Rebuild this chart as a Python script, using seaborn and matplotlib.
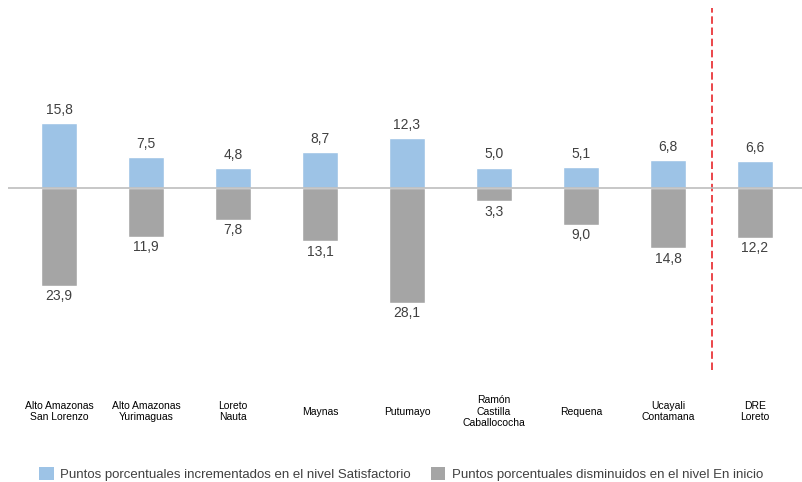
import matplotlib
matplotlib.use("Agg")
import matplotlib.pyplot as plt
import seaborn as sns
import pandas as pd
from matplotlib.patches import Patch

categories = ["Alto Amazonas\nSan Lorenzo", "Alto Amazonas\nYurimaguas", "Loreto\nNauta",
              "Maynas", "Putumayo", "Ramón\nCastilla\nCaballococha", "Requena",
              "Ucayali\nContamana", "DRE\nLoreto"]
incremento = [15.8, 7.5, 4.8, 8.7, 12.3, 5.0, 5.1, 6.8, 6.6]
disminucion = [23.9, 11.9, 7.8, 13.1, 28.1, 3.3, 9.0, 14.8, 12.2]
serie_names = ["Puntos porcentuales incrementados en el nivel Satisfactorio",
               "Puntos porcentuales disminuidos en el nivel En inicio"]

blue = "#9DC3E6"
gray = "#A5A5A5"

sns.set_theme(style="white")
plt.rcParams["font.family"] = ["Liberation Sans", "DejaVu Sans"]

df = pd.DataFrame({
    "cat": categories * 2,
    "val": incremento + [-v for v in disminucion],
    "serie": [serie_names[0]] * len(categories) + [serie_names[1]] * len(categories),
})

fig = plt.figure(figsize=(8.02, 4.82), dpi=100)
ax = fig.add_axes([0.00998, 0.2324, 0.99, 0.751])

sns.barplot(data=df, x="cat", y="val", hue="serie", dodge=False, width=0.41,
            palette=[blue, gray], ax=ax, legend=False, saturation=1)

ax.set_xlim(-0.586, 8.54)
ax.set_ylim(-44.6, 44.1)
ax.axhline(0, color="#BDBDBD", lw=1.2, zorder=3)
ax.axvline(7.5, color="#E8262B", lw=1.2, ls=(0, (4.5, 2.2)))

for i, (p, n) in enumerate(zip(incremento, disminucion)):
    ax.annotate(f"{p:.1f}".replace(".", ","), (i, p), xytext=(0, 4.5), textcoords="offset points",
                ha="center", va="bottom", fontsize=10, color="#404040")
    ax.annotate(f"{n:.1f}".replace(".", ","), (i, -n), xytext=(0, -2.5), textcoords="offset points",
                ha="center", va="top", fontsize=10, color="#404040")

for s in ax.spines.values():
    s.set_visible(False)
ax.set_yticks([])
ax.set_xlabel("")
ax.set_ylabel("")
ax.tick_params(axis="x", length=0, pad=30, labelsize=7.5, labelcolor="#000000")
for lab in ax.get_xticklabels():
    lab.set_va("center")
    lab.set_ha("center")
    lab.set_multialignment("center")

handles = [Patch(facecolor=blue, edgecolor="none"), Patch(facecolor=gray, edgecolor="none")]
fig.legend(handles, serie_names, loc="center", bbox_to_anchor=(0.5, 0.017), ncol=2,
           frameon=False, fontsize=9.5, handlelength=1.1, handleheight=1.1,
           columnspacing=1.5, handletextpad=0.5, labelcolor="#404040")

fig.savefig("out.png", dpi=100)
